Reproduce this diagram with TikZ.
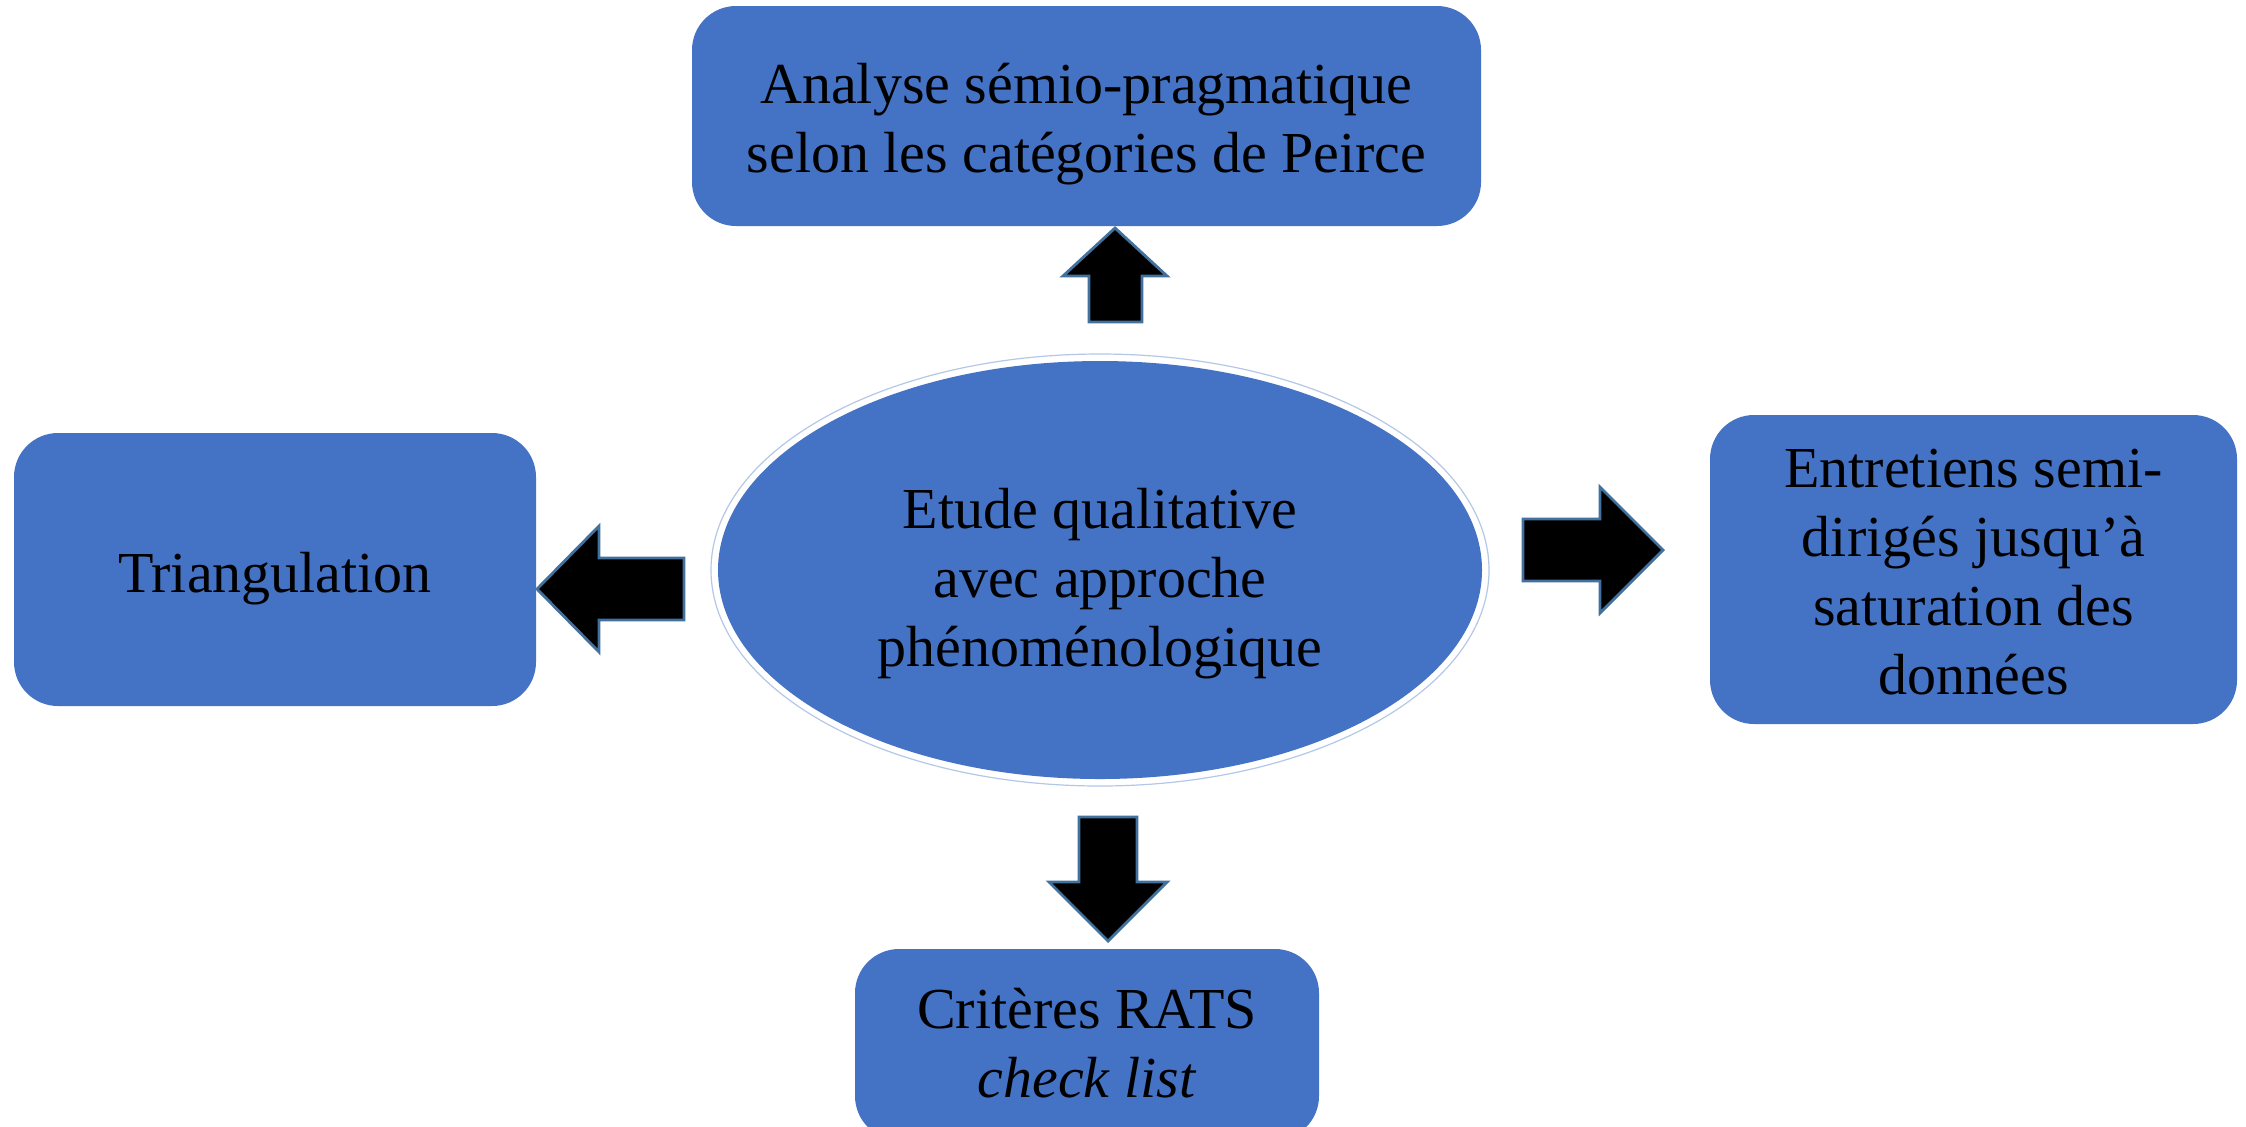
\documentclass[tikz,border=0pt]{standalone}
\usepackage{fontspec}
\setmainfont{Liberation Serif}
\usetikzlibrary{shapes.geometric}
\definecolor{boxblue}{HTML}{4472C4}
\definecolor{arrowline}{HTML}{41719C}
\definecolor{ringblue}{HTML}{B4C7E7}
\tikzset{
  box/.style={draw=none, fill=boxblue, rounded corners=22pt, inner sep=0pt},
  boxtext/.style={inner sep=0pt, align=center, font=\fontsize{29pt}{34.5pt}\selectfont},
  blockarrow/.style={fill=black, draw=arrowline, line width=1.4pt, line join=miter},
}
\begin{document}
\begin{tikzpicture}[x=0.5pt,y=-0.5pt]
\clip (0,0) rectangle (2246,1126);
\fill[white] (0,0) rectangle (2246,1126);
% boxes
\node[box, minimum width=394.5pt, minimum height=110pt] (top) at (1086.5,116) {};
\node[boxtext, yshift=-4pt] (toptext) at (top.center)
  {Analyse sémio-pragmatique\\selon les catégories de Peirce};
\node[box, minimum width=261pt, minimum height=136.5pt] (left) at (275,569.5) {};
\node[boxtext, yshift=-4.5pt] (lefttext) at (left.center) {Triangulation};
\node[box, minimum width=263.5pt, minimum height=154.5pt] (right) at (1973.5,569.5) {};
\node[boxtext, yshift=-1.5pt] (righttext) at (right.center)
  {Entretiens semi-\\dirigés jusqu’à\\saturation des\\données};
\node[box, minimum width=232pt, minimum height=95.5pt] (bottom) at (1087,1044.5) {};
\node[boxtext, yshift=0.5pt] (bottomtext) at (bottom.center) {Critères RATS\\\textit{check list}};
% central ellipse with light ring
\draw[ringblue, line width=0.6pt] (1100,570) ellipse [x radius=389, y radius=216];
\node[ellipse, fill=boxblue, inner sep=0pt, minimum width=382pt, minimum height=209pt] (center) at (1100,570) {};
\node[boxtext, yshift=-7pt] (centertext) at (center.center)
  {Etude qualitative\\avec approche\\phénoménologique};
% block arrows
\path[blockarrow] (1115,228) -- (1167,276) -- (1142,276) -- (1142,322) -- (1089,322)
  -- (1089,276) -- (1063,276) -- cycle;
\path[blockarrow] (537,589) -- (599,526) -- (599,558) -- (684,558) -- (684,620)
  -- (599,620) -- (599,652) -- cycle;
\path[blockarrow] (1663,550) -- (1600,487) -- (1600,519) -- (1523,519) -- (1523,581)
  -- (1600,581) -- (1600,613) -- cycle;
\path[blockarrow] (1108,941) -- (1167,882) -- (1137,882) -- (1137,817) -- (1079,817)
  -- (1079,882) -- (1049,882) -- cycle;
\end{tikzpicture}
\end{document}
